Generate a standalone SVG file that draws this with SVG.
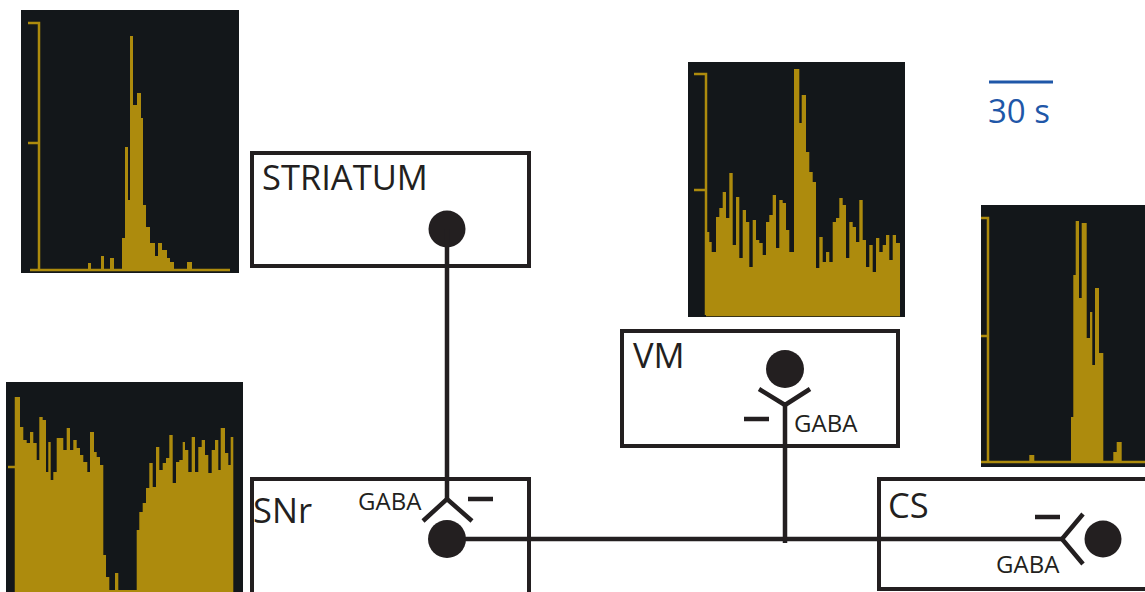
<svg xmlns="http://www.w3.org/2000/svg" width="1145" height="592" viewBox="0 0 1145 592">
<style>
.bg{fill:#13171a}
.bar{fill:#ad8b0d}
.ax{stroke:#ad8b0d;stroke-width:2.5;fill:none}
.box{fill:#fff;stroke:#231f20;stroke-width:4}
.ln{stroke:#231f20;stroke-width:4.5;fill:none}
.dot{fill:#231f20}
.lbl{font-family:"Open Sans","Noto Sans",sans-serif;font-size:34.5px;fill:#231f20}
.gaba{font-family:"Open Sans","Noto Sans",sans-serif;font-size:24px;fill:#231f20}
</style>
<rect width="1145" height="592" fill="#fff"/>
<g id="hist-striatum">
<rect class="bg" x="21" y="10" width="218" height="263"/>
<path class="ax" d="M28 23H39V270M28 143H39M30 270H230"/>
<path class="bar" d="M88 270V263H91V270ZM101 270V256H104V270ZM110 270V258H114V270ZM187 270V262H192V270ZM122 270V238H125V147H128V200H130V36H133V105H137V93H141V118H143V205H146V227H150V243H155V256H158V243H162V250H167V258H170V262H174V270Z"/>
</g>
<g id="hist-snr">
<rect class="bg" x="6" y="382" width="237" height="212"/>
<path class="ax" d="M8 467H16M16 397V592"/>
<path class="bar" d="M16 592V397H20V427H23.3V440H26.7V443H30V432H33.3V443H36.7V460H39.3V417H42.7V420H46V472H48.3V442H50.7V480H53.3V472H56.7V438H60V438H63.3V450H66.7V428H70V450H73.3V440H76.7V448H80V455H83.3V462H87.3V472H90V432H94V452H96.7V457H100V465H103.3V555H106V577H109.3V590H115V573H118.3V590H136.7V530H139.3V512H142.7V503H146V488H149.3V463H152.7V487H156V447H159.3V470H162.7V463H166V458H169.3V435H172.7V483H176V462H179.3V460H182.7V442H185V450H188.3V472H191.7V437H195V472H198.3V447H201.7V440H205V455H208.3V473H211.7V450H215V440H218.3V470H220.7V428H225V453H228.3V465H230.7V437H233.3V592Z"/>
</g>
<g id="hist-vm">
<rect class="bg" x="688" y="62" width="217" height="255"/>
<path class="ax" d="M694 74H706V315M694 190H706M706 315H900"/>
<path class="bar" d="M706 315V232H709.3V242H711.7V252H716V217H719.3V208H722.7V192H726V218H729.3V173H732.7V245H736V197H739.3V258H742.7V210H746V222H749.3V267H752.7V220H756V240H759.3V243H762.7V255H766V222H769.3V215H772.7V195H776V248H779.3V200H782.7V203H786V230H789.3V252H794V69H799.3V123H801.7V95H806V152H809.3V172H812.7V182H816V268H819.3V237H822.7V262H826V252H829.3V262H832.7V222H836V218H839.3V198H842.7V205H846V258H849.3V222H852.7V227H856V242H859.3V200H862.7V240H866V267H869.3V245H872.7V272H876V238H879.3V252H882.7V245H886V235H889.3V260H892.7V235H896V243H900V315Z"/>
</g>
<g id="hist-cs">
<rect class="bg" x="981" y="205" width="164" height="262"/>
<path class="ax" d="M981 218H988V462M981 336H988M981 462H1145"/>
<path class="bar" d="M1029.3 462V455H1034.3V462ZM1113.3 462V452H1116.7V442H1121.7V462ZM1071 462V417H1073.3V275H1075.7V221H1079V298H1081.7V223H1086.7V338H1090V312H1092.3V365H1095V288H1099V353H1103.3V462Z"/>
</g>
<g id="scalebar">
<line x1="989" y1="82" x2="1053" y2="82" stroke="#1f57a8" stroke-width="3"/>
<text x="988" y="123" font-family="'Open Sans','Noto Sans',sans-serif" font-size="33" fill="#1f57a8">30 s</text>
</g>
<g id="striatum">
<rect class="box" x="252" y="153" width="277" height="113"/>
<text class="lbl" x="262" y="190">STRIATUM</text>
<circle class="dot" cx="447" cy="229" r="18.5"/>
</g>
<g id="vm">
<rect class="box" x="622" y="331" width="276" height="115"/>
<text class="lbl" x="633" y="368">VM</text>
<circle class="dot" cx="785" cy="369" r="19"/>
</g>
<g id="snr">
<rect class="box" x="252" y="479" width="277" height="120"/>
<text class="lbl" x="253" y="523">SNr</text>
</g>
<g id="cs">
<rect class="box" x="879" y="479" width="280" height="110"/>
<text class="lbl" x="888" y="518">CS</text>
</g>
<g id="connectors">
<path class="ln" d="M447 229V499"/>
<path class="ln" d="M447 539H1062"/>
<path class="ln" d="M785 405V543"/>
<path class="ln" stroke-width="5" d="M423 521L447 499L472 521"/>
<path class="ln" stroke-width="5" d="M759 389L785 405L810 389"/>
<path class="ln" stroke-width="5" d="M1083 514L1062 539L1083 564"/>
<path class="ln" stroke-width="5" d="M468 499H493M744 419H769M1035 517H1060"/>
<text class="gaba" x="358" y="510">GABA</text>
<text class="gaba" x="794" y="432">GABA</text>
<text class="gaba" x="996" y="573">GABA</text>
</g>
<circle class="dot" cx="447" cy="539" r="19"/>
<circle class="dot" cx="1103" cy="539" r="18.5"/>
</svg>
